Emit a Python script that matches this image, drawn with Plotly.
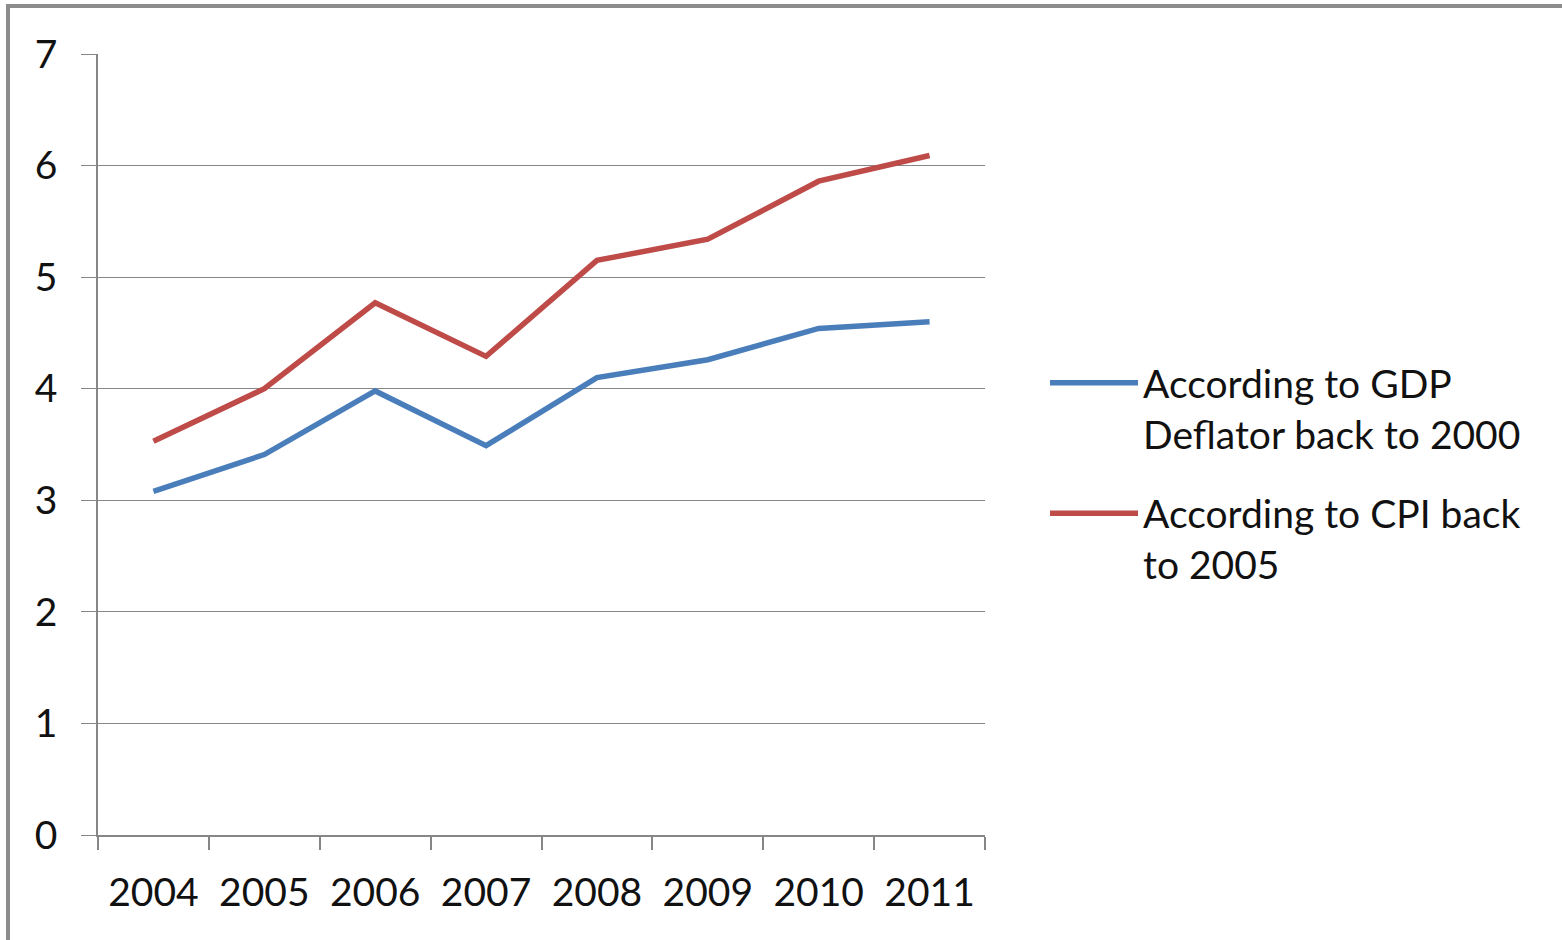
import plotly.graph_objects as go

years = ["2004", "2005", "2006", "2007", "2008", "2009", "2010", "2011"]
gdp_deflator = [3.08, 3.41, 3.98, 3.49, 4.10, 4.26, 4.54, 4.60]
cpi = [3.53, 4.00, 4.77, 4.29, 5.15, 5.34, 5.86, 6.09]
series_names = ["According to GDP<br>Deflator back to 2000", "According to CPI back<br>to 2005"]
series_colors = ["#4A7EBB", "#BE4B48"]
y_ticks = [0, 1, 2, 3, 4, 5, 6, 7]

W, H = 1562, 940
L, R, T, B = 98, 985, 54, 835
pw, ph = R - L, B - T

fig = go.Figure()
for i, (vals, name, col) in enumerate(zip([gdp_deflator, cpi], series_names, series_colors)):
    fig.add_trace(go.Scatter(x=years, y=vals, mode="lines", name=name,
                             legendgroup=f"g{i}",
                             line=dict(color=col, width=5.5)))

grid = "#868686"
fig.update_layout(
    width=W, height=H,
    margin=dict(l=L, r=W - R, t=T, b=H - B, pad=0),
    paper_bgcolor="white", plot_bgcolor="white",
    font=dict(family="Lato, 'Open Sans', sans-serif", color="#111111"),
    showlegend=True,
    legend=dict(x=(1045 - L) / pw, y=(B - 351) / ph, xanchor="left", yanchor="top",
                font=dict(size=39), valign="top", tracegroupgap=26,
                traceorder="grouped",
                bgcolor="rgba(0,0,0,0)", itemwidth=88),
    xaxis=dict(type="category", range=[-0.5, 7.5], showgrid=False,
               showline=True, linecolor=grid, linewidth=1.5,
               ticks="outside", tickson="boundaries", ticklen=13, tickcolor=grid,
               tickwidth=1.5, tickfont=dict(size=39), ticklabelstandoff=22),
    yaxis=dict(range=[0, 7], tickvals=y_ticks, showgrid=True, gridcolor=grid,
               gridwidth=1.2, showline=True, linecolor=grid, linewidth=1.5,
               ticks="outside", ticklen=15, tickcolor=grid, tickwidth=1.2,
               tickfont=dict(size=39), zeroline=False, ticklabelstandoff=16),
    shapes=[dict(type="rect", xref="paper", yref="paper",
                 x0=(8 - L) / pw, x1=(1580 - L) / pw,
                 y0=(B - 960) / ph, y1=(B - 6) / ph,
                 line=dict(color="#8c8c8c", width=4), layer="below")],
)

fig.write_html("out.html", config={"displayModeBar": False},
               post_script="document.body.style.margin='0';")
